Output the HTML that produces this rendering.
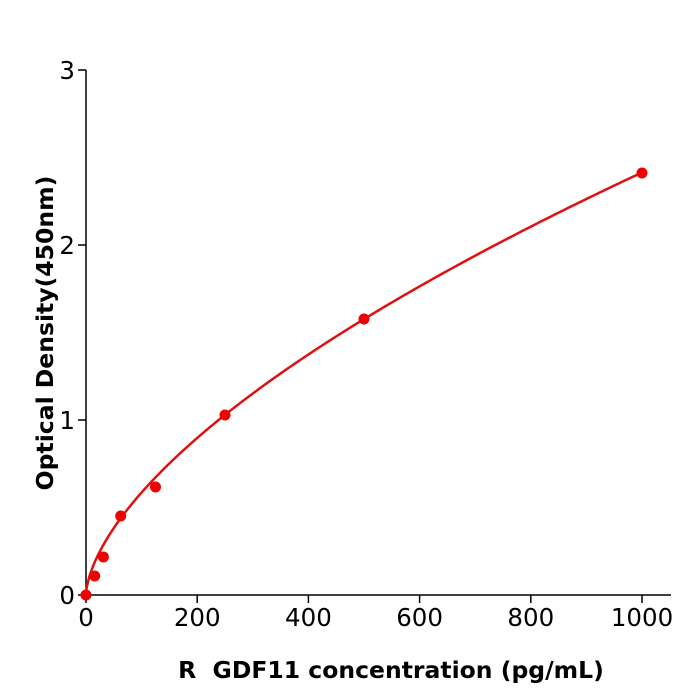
<!DOCTYPE html>
<html><head><meta charset="utf-8"><style>
body{margin:0;background:#fff;}
svg{display:block;font-family:"DejaVu Sans","Liberation Sans",sans-serif;}
</style></head><body>
<svg id="s" width="700" height="700" viewBox="0 0 700 700" xmlns="http://www.w3.org/2000/svg">
<rect width="700" height="700" fill="#fff"/>
<g stroke="#000" stroke-width="1.5" fill="none">
<line x1="86" y1="70" x2="86" y2="596"/>
<line x1="85" y1="595" x2="671" y2="595"/>
<line x1="78" y1="595" x2="86" y2="595"/>
<line x1="78" y1="420" x2="86" y2="420"/>
<line x1="78" y1="245" x2="86" y2="245"/>
<line x1="78" y1="70" x2="86" y2="70"/>
<line x1="86" y1="595" x2="86" y2="603"/>
<line x1="197.2" y1="595" x2="197.2" y2="603"/>
<line x1="308.4" y1="595" x2="308.4" y2="603"/>
<line x1="419.6" y1="595" x2="419.6" y2="603"/>
<line x1="530.8" y1="595" x2="530.8" y2="603"/>
<line x1="642" y1="595" x2="642" y2="603"/>
</g>
<g font-size="24.5" fill="#000" text-anchor="end">
<text x="75" y="604">0</text>
<text x="75" y="429">1</text>
<text x="75" y="254">2</text>
<text x="75" y="79">3</text>
</g>
<g font-size="24.5" fill="#000" text-anchor="middle">
<text x="86" y="626">0</text>
<text x="197.2" y="626">200</text>
<text x="308.4" y="626">400</text>
<text x="419.6" y="626">600</text>
<text x="530.8" y="626">800</text>
<text x="642" y="626">1000</text>
</g>
<text x="391" y="678" font-size="23.5" font-weight="bold" text-anchor="middle">R&#160; GDF11 concentration (pg/mL)</text>
<text transform="translate(53,333) rotate(-90)" font-size="23.5" font-weight="bold" text-anchor="middle">Optical Density(450nm)</text>
<path id="c" fill="none" stroke="#e01010" stroke-width="2.5"/>
<g fill="#f00000">
<circle cx="86" cy="595" r="5.5"/>
<circle cx="94.7" cy="576" r="5.5"/>
<circle cx="103.4" cy="557" r="5.5"/>
<circle cx="120.7" cy="516" r="5.5"/>
<circle cx="155.5" cy="487" r="5.5"/>
<circle cx="225" cy="415" r="5.5"/>
<circle cx="364" cy="319" r="5.5"/>
<circle cx="642" cy="173" r="5.5"/>
</g>
</svg>
<script>
var d="";for(var i=0;i<=400;i++){var x=1000*Math.pow(i/400,2);var y=0.0345*Math.pow(x,0.615);
d+=(i?"L":"M")+(86+x*0.556).toFixed(2)+","+(595-y*175).toFixed(2);}
document.getElementById("c").setAttribute("d",d);
</script>
</body></html>
